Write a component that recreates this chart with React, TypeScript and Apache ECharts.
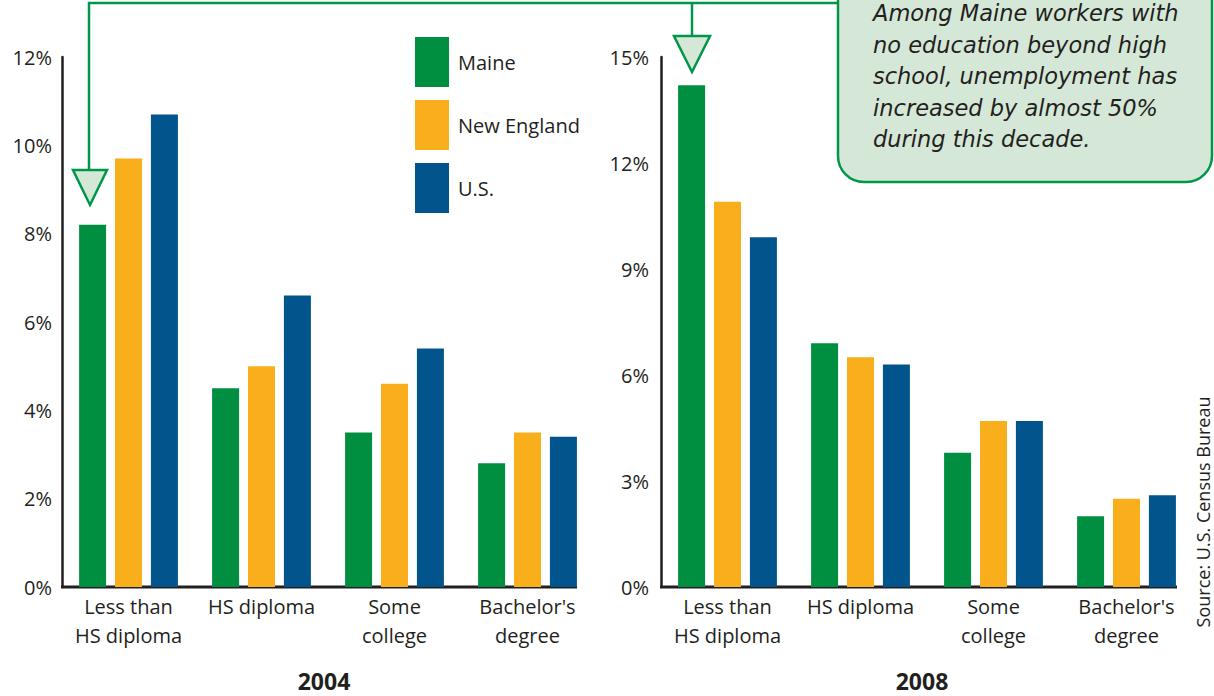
import React, { useEffect, useRef } from "react";
import * as echarts from "echarts";

const categories = ["Less than\nHS diploma", "HS diploma", "Some\ncollege", "Bachelor's\ndegree"];
const seriesNames = ["Maine", "New England", "U.S."];
const maine2004 = [8.2, 4.5, 3.5, 2.8];
const newEngland2004 = [9.7, 5.0, 4.6, 3.5];
const us2004 = [10.7, 6.6, 5.4, 3.4];
const maine2008 = [14.2, 6.9, 3.8, 2.0];
const newEngland2008 = [10.9, 6.5, 4.7, 2.5];
const us2008 = [9.9, 6.3, 4.7, 2.6];
const yearTitles = ["2004", "2008"];
const noteLines = [
  "Among Maine workers with",
  "no education beyond high",
  "school, unemployment has",
  "increased by almost 50%",
  "during this decade.",
];
const sourceText = "Source: U.S. Census Bureau";

const COLORS = ["#008f41", "#f9ae1b", "#02548c"];
const TEXT = "#231f20";
const FONT = "'Open Sans', 'Noto Sans', sans-serif";
const NOTE_FONT = "'DejaVu Sans', 'Open Sans', sans-serif";
const NOTE_GREEN = "#00964a";
const NOTE_FILL = "#d5e8d8";

export default function App() {
  const ref = useRef<HTMLDivElement>(null);
  useEffect(() => {
    if (!ref.current) return;
    const chart = echarts.init(ref.current, undefined, { renderer: "svg" });
    const grids = [
      { left: 62, top: 57, width: 532, height: 530 },
      { left: 661, top: 57, width: 532, height: 530 },
    ];
    const data = [
      [maine2004, newEngland2004, us2004],
      [maine2008, newEngland2008, us2008],
    ];
    const series: any[] = [];
    for (let g = 0; g < 2; g++) {
      for (let s = 0; s < 3; s++) {
        series.push({
          type: "bar",
          name: seriesNames[s],
          xAxisIndex: g,
          yAxisIndex: g,
          data: data[g][s],
          barWidth: 27,
          barGap: "33%",
          itemStyle: { color: COLORS[s] },
        });
      }
    }
    const xAxis = [0, 1].map((g) => ({
      type: "category",
      gridIndex: g,
      data: categories,
      axisLine: { show: false },
      axisTick: { show: false },
      axisLabel: {
        interval: 0,
        margin: 5,
        fontSize: 20,
        lineHeight: 29,
        color: TEXT,
        fontFamily: FONT,
        align: "center",
      },
    }));
    const yAxis = [
      { max: 12, interval: 2, margin: 10 },
      { max: 15, interval: 3, margin: 12 },
    ].map((a, g) => ({
      type: "value",
      gridIndex: g,
      min: 0,
      max: a.max,
      interval: a.interval,
      splitLine: { show: false },
      axisTick: { show: false },
      axisLine: { show: true, lineStyle: { color: TEXT, width: 2.5 } },
      axisLabel: {
        formatter: "{value}%",
        fontSize: 20,
        color: TEXT,
        fontFamily: FONT,
        margin: a.margin,
      },
    }));

    const noteTexts = noteLines.map((line, i) => ({
      type: "text",
      x: 873,
      y: 13 + i * 31.5,
      style: {
        text: line,
        font: `italic 22.5px ${NOTE_FONT}`,
        fill: TEXT,
        align: "left",
        verticalAlign: "middle",
        lineHeight: 24,
      },
    }));

    const graphic: any[] = [
      // x-axis baselines
      { type: "line", shape: { x1: 61, y1: 587, x2: 577, y2: 587 }, style: { stroke: TEXT, lineWidth: 3 } },
      { type: "line", shape: { x1: 660, y1: 587, x2: 1177, y2: 587 }, style: { stroke: TEXT, lineWidth: 3 } },
      // connectors
      {
        type: "polyline",
        shape: { points: [[840, 3], [89, 3], [89, 170]] },
        style: { stroke: NOTE_GREEN, lineWidth: 2.5, fill: "none" },
      },
      { type: "line", shape: { x1: 692, y1: 3, x2: 692, y2: 36 }, style: { stroke: NOTE_GREEN, lineWidth: 2.5 } },
      {
        type: "polygon",
        shape: { points: [[73, 170], [107, 170], [90, 205]] },
        style: { fill: NOTE_FILL, stroke: NOTE_GREEN, lineWidth: 2.5 },
      },
      {
        type: "polygon",
        shape: { points: [[674, 36], [710, 36], [692, 72]] },
        style: { fill: NOTE_FILL, stroke: NOTE_GREEN, lineWidth: 2.5 },
      },
      // note box
      {
        type: "rect",
        shape: { x: 838, y: -40, width: 374, height: 222, r: 26 },
        style: { fill: NOTE_FILL, stroke: NOTE_GREEN, lineWidth: 2.5 },
      },
      ...noteTexts,
      // year titles
      {
        type: "text",
        x: 324,
        y: 681,
        style: { text: yearTitles[0], font: `bold 23px ${FONT}`, lineHeight: 22, fill: TEXT, align: "center", verticalAlign: "middle" },
      },
      {
        type: "text",
        x: 922,
        y: 681,
        style: { text: yearTitles[1], font: `bold 23px ${FONT}`, lineHeight: 22, fill: TEXT, align: "center", verticalAlign: "middle" },
      },
      // source
      {
        type: "text",
        x: 1203,
        y: 512,
        rotation: Math.PI / 2,
        style: { text: sourceText, font: `18px ${FONT}`, lineHeight: 18, fill: TEXT, align: "center", verticalAlign: "middle" },
      },
    ];

    chart.setOption({
      animation: false,
      backgroundColor: "#ffffff",
      textStyle: { fontFamily: FONT },
      legend: {
        data: seriesNames,
        orient: "vertical",
        left: 415,
        top: 37,
        padding: 0,
        itemWidth: 34,
        itemHeight: 50,
        itemGap: 13,
        icon: "rect",
        selectedMode: false,
        textStyle: { fontSize: 20, color: TEXT, fontFamily: FONT, padding: [0, 0, 0, 4] },
      },
      grid: grids,
      xAxis,
      yAxis,
      series,
      graphic,
    });
    return () => chart.dispose();
  }, []);
  return <div ref={ref} style={{ position: "fixed", left: 0, top: 0, width: 1214, height: 696 }} />;
}
